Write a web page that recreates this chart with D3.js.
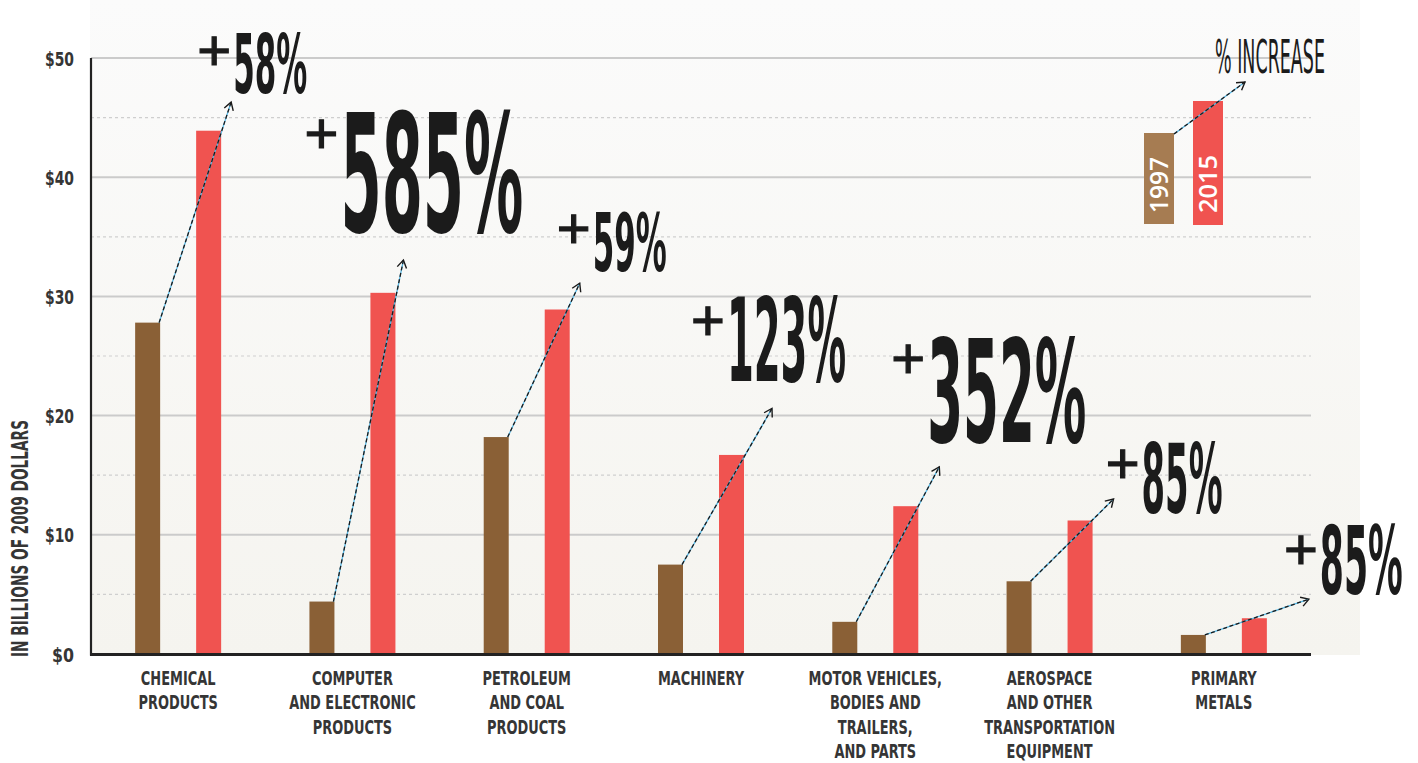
<!DOCTYPE html>
<html><head><meta charset="utf-8">
<script src="https://cdn.jsdelivr.net/npm/d3@7"></script>
<style>body{margin:0;background:#fff;} svg{display:block}</style>
</head><body>
<svg id="chart" width="1418" height="763"></svg>
<script>
// ---------- DATA ----------
const categories = ["Chemical products","Computer and electronic products","Petroleum and coal products","Machinery","Motor vehicles, bodies and trailers, and parts","Aerospace and other transportation equipment","Primary metals"];
const categoryLines = [["CHEMICAL","PRODUCTS"],["COMPUTER","AND ELECTRONIC","PRODUCTS"],["PETROLEUM","AND COAL","PRODUCTS"],["MACHINERY"],["MOTOR VEHICLES,","BODIES AND","TRAILERS,","AND PARTS"],["AEROSPACE","AND OTHER","TRANSPORTATION","EQUIPMENT"],["PRIMARY","METALS"]];
const years = ["1997","2015"];
const values1997 = [27.8, 4.4, 18.2, 7.5, 2.7, 6.1, 1.6];
const values2015 = [43.9, 30.3, 28.9, 16.7, 12.4, 11.2, 3.0];
const pctLabels = ["58%","585%","59%","123%","352%","85%","85%"];
const yTicks = [0,10,20,30,40,50];
const yMinorTicks = [5,15,25,35,45];
const yTickLabels = ["$0","$10","$20","$30","$40","$50"];
const yTitle = "IN BILLIONS OF 2009 DOLLARS";
const legendTitle = "% INCREASE";

// ---------- LAYOUT (annotation placement) ----------
const arrowTips = [{dx:53,v:46.3},{dx:51,v:33.05},{dx:53,v:31.1},{dx:71,v:20.6},{dx:64,v:15.7},{dx:64,v:13.0},{dx:85,v:4.6}];
const labelBoxes = [
  {dx:2,dy:-9,w:74,cap:60,pdy:17},
  {dx:-63,dy:-28,w:183,cap:119,pdy:20},
  {dx:13,dy:-12,w:74,cap:59,pdy:15},
  {dx:-45,dy:-27,w:119,cap:84,pdy:22},
  {dx:-12,dy:-25,w:159,cap:104,pdy:20},
  {dx:28,dy:14,w:81,cap:70,pdy:20},
  {dx:11,dy:-5,w:83,cap:69,pdy:24}
];

const COL97 = "#8a6036", COL15 = "#f05350", LEG97 = "#a67c52";
const INK = "#1b1b1b", LABEL = "#353535";
const NARROW = "'Liberation Sans Narrow','DejaVu Sans Condensed','Arial Narrow',sans-serif";

const svg = d3.select("#chart");
const plotL = 91, plotR = 1311;
const y = d3.scaleLinear().domain([0,50]).range([654,58]);
const x = d3.scaleBand().domain(categories).range([plotL, plotR]).paddingInner(0).paddingOuter(0);
const xs = d3.scalePoint().domain(years).range([-30.5, 30.5]);
const barW = 25;
const cx = i => x(categories[i]) + x.bandwidth()/2;

// background panel
const defs = svg.append("defs");
const grad = defs.append("linearGradient").attr("id","bg").attr("x1",0).attr("y1",0).attr("x2",0).attr("y2",1);
grad.append("stop").attr("offset","0%").attr("stop-color","#fbfbfb");
grad.append("stop").attr("offset","100%").attr("stop-color","#f5f4ef");
svg.append("rect").attr("x",90).attr("y",0).attr("width",1270).attr("height",y(0)+1).attr("fill","url(#bg)");

// gridlines
svg.append("g").selectAll("line").data(yMinorTicks).join("line")
  .attr("x1",plotL).attr("x2",plotR).attr("y1",d=>y(d)).attr("y2",d=>y(d))
  .attr("stroke","#cfcfcf").attr("stroke-width",1.2).attr("stroke-dasharray","3,3");
svg.append("g").selectAll("line").data(yTicks.filter(d=>d>0)).join("line")
  .attr("x1",plotL).attr("x2",plotR).attr("y1",d=>y(d)).attr("y2",d=>y(d))
  .attr("stroke","#cbcbcb").attr("stroke-width",2);

// y axis labels
const yAxis = d3.axisLeft(y).tickValues(yTicks).tickSize(0).tickPadding(0).tickFormat((d,i)=>yTickLabels[i]);
const gy = svg.append("g").attr("transform",`translate(74,0)`).call(yAxis);
gy.select(".domain").remove();
gy.selectAll("text").attr("font-family",NARROW).attr("font-weight","bold").attr("font-size",20)
  .attr("fill",LABEL).attr("dy","0.35em").attr("text-anchor","end")
  .attr("textLength",function(d){ return d===0 ? 22 : 29; }).attr("lengthAdjust","spacingAndGlyphs");

// y title
svg.append("text").attr("transform","translate(28,657) rotate(-90)")
  .attr("font-family",NARROW).attr("font-weight","bold").attr("font-size",23)
  .attr("textLength",237).attr("lengthAdjust","spacingAndGlyphs")
  .attr("fill",LABEL).text(yTitle);

// bars
const bars = svg.append("g");
categories.forEach((c,i)=>{
  [[values1997[i],"1997",COL97],[values2015[i],"2015",COL15]].forEach(([v,yr,col])=>{
    bars.append("rect").attr("x",cx(i)+xs(yr)-barW/2).attr("y",y(v)).attr("width",barW)
      .attr("height",y(0)-y(v)).attr("fill",col);
  });
});

// axes lines
svg.append("line").attr("x1",plotL).attr("x2",plotL).attr("y1",y(50)).attr("y2",y(0)+1.5)
  .attr("stroke","#222").attr("stroke-width",2.2);
svg.append("line").attr("x1",plotL-1).attr("x2",plotR).attr("y1",y(0)+0.5).attr("y2",y(0)+0.5)
  .attr("stroke","#222").attr("stroke-width",3);

// category labels
const catG = svg.append("g");
categoryLines.forEach((lines,i)=>{
  const g = catG.append("g").attr("transform",`translate(${cx(i)},685) scale(0.72,1)`);
  lines.forEach((ln,j)=>{
    g.append("text").attr("x",0).attr("y",j*24.3).attr("text-anchor","middle")
      .attr("font-family",NARROW).attr("font-weight","bold").attr("font-size",20)
      .attr("fill",LABEL).text(ln);
  });
});

// arrow helper
function arrow(g, x1, y1, x2, y2){
  g.append("line").attr("x1",x1).attr("y1",y1).attr("x2",x2).attr("y2",y2)
    .attr("stroke","#55b8e6").attr("stroke-width",1.3);
  g.append("line").attr("x1",x1).attr("y1",y1).attr("x2",x2).attr("y2",y2)
    .attr("stroke","#1a1a1a").attr("stroke-width",1.3).attr("stroke-dasharray","4,2.5");
  const a = Math.atan2(y2-y1, x2-x1), L = 9, sp = 0.55;
  const p = d3.path();
  p.moveTo(x2 - L*Math.cos(a-sp), y2 - L*Math.sin(a-sp));
  p.lineTo(x2, y2);
  p.lineTo(x2 - L*Math.cos(a+sp), y2 - L*Math.sin(a+sp));
  g.append("path").attr("d",p.toString()).attr("fill","none").attr("stroke","#1a1a1a").attr("stroke-width",1.4);
}

// big condensed label helper
function bigText(g, txt, left, bottom, width, cap, weight){
  const fs = cap/0.729;
  g.append("text").attr("x",left).attr("y",bottom)
    .attr("font-family",NARROW).attr("font-weight",weight).attr("font-size",fs)
    .attr("textLength",width).attr("lengthAdjust","spacingAndGlyphs")
    .attr("fill",INK).text(txt);
}
function plusSign(g, cxp, cyp){
  const fs = 58;
  g.append("text").attr("x",cxp).attr("y",cyp + 0.35*fs).attr("text-anchor","middle")
    .attr("font-family","'Liberation Sans',Arial,sans-serif").attr("font-weight","normal").attr("font-size",fs)
    .attr("stroke",INK).attr("stroke-width",1.2)
    .attr("fill",INK).text("+");
}

const ann = svg.append("g");
categories.forEach((c,i)=>{
  const sx = cx(i) + xs("1997") + barW/2 - 1, sy = y(values1997[i]);
  const tx = cx(i) + arrowTips[i].dx, ty = y(arrowTips[i].v);
  arrow(ann, sx, sy, tx, ty);
  const b = labelBoxes[i];
  const left = tx + b.dx, bottom = ty + b.dy;
  bigText(ann, pctLabels[i], left, bottom, b.w, b.cap, "bold");
  plusSign(ann, left - 19, bottom - b.cap + b.pdy);
});

// legend
const lg = svg.append("g");
lg.append("rect").attr("x",1144).attr("y",133).attr("width",30).attr("height",91).attr("fill",LEG97);
lg.append("rect").attr("x",1193).attr("y",101).attr("width",30).attr("height",124).attr("fill",COL15);
lg.append("text").attr("transform","translate(1168,213) rotate(-90)").attr("font-family","'Open Sans','Noto Sans',sans-serif")
  .attr("font-weight",600).attr("font-size",25).attr("textLength",56).attr("lengthAdjust","spacingAndGlyphs")
  .attr("fill","#fff").text(years[0]);
lg.append("text").attr("transform","translate(1217,213) rotate(-90)").attr("font-family","'Open Sans','Noto Sans',sans-serif")
  .attr("font-weight",600).attr("font-size",25).attr("textLength",58).attr("lengthAdjust","spacingAndGlyphs")
  .attr("fill","#fff").text(years[1]);
arrow(lg, 1174, 134, 1245, 82);
bigText(lg, legendTitle, 1215, 73, 110, 34, "normal");
</script>
</body></html>
